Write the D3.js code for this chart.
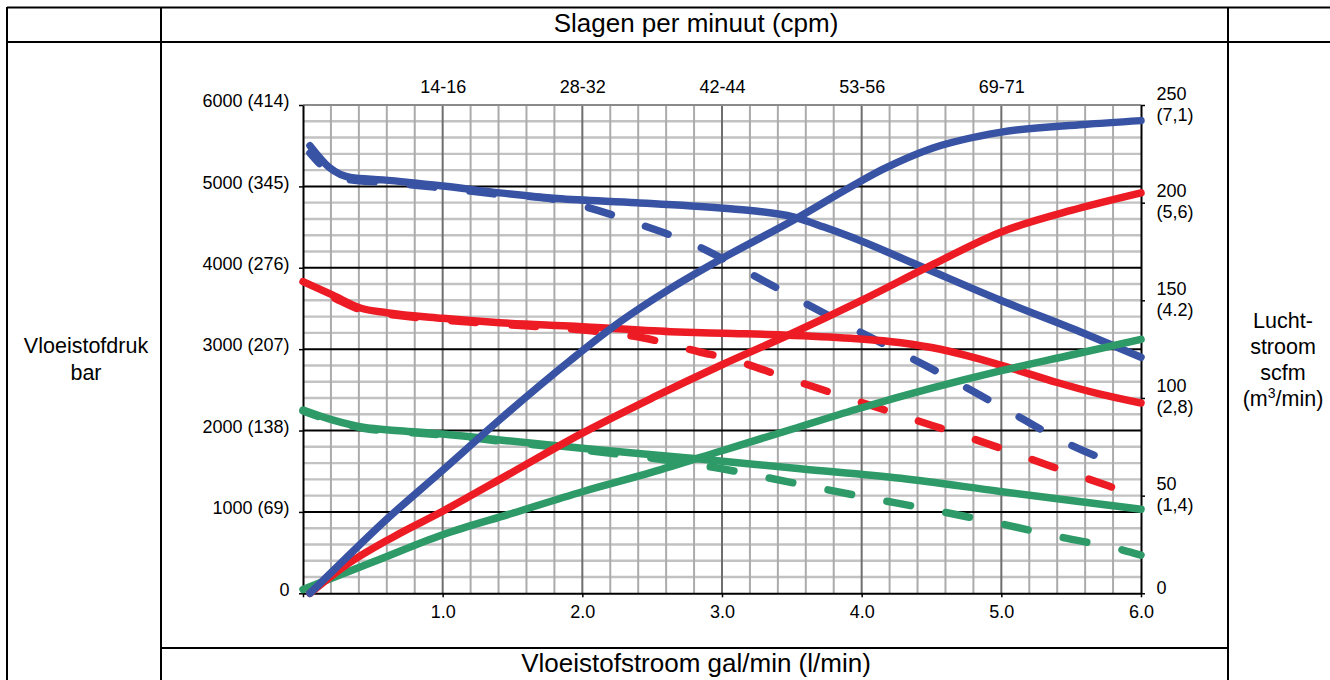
<!DOCTYPE html>
<html>
<head>
<meta charset="utf-8">
<script src="https://cdn.jsdelivr.net/npm/d3@7"></script>
<style>
  html, body { margin: 0; padding: 0; background: #fff; }
  svg { display: block; font-family: "Liberation Sans", Arial, Helvetica, sans-serif; }
</style>
</head>
<body>
<svg id="chart" width="1330" height="680"></svg>
<script>
// ---------------- DATA ----------------
const flowTicks = [0, 1, 2, 3, 4, 5, 6];
const flowLabels = ["", "1.0", "2.0", "3.0", "4.0", "5.0", "6.0"];

const cpmPositions = [1, 2, 3, 4, 5];
const cpmLabels = ["14-16", "28-32", "42-44", "53-56", "69-71"];

const pressureTicks = [0, 1000, 2000, 3000, 4000, 5000, 6000];
const pressureLabels = ["0", "1000 (69)", "2000 (138)", "3000 (207)", "4000 (276)", "5000 (345)", "6000 (414)"];

const airTicks = [0, 50, 100, 150, 200, 250];
const airLabels = [["0"], ["50", "(1,4)"], ["100", "(2,8)"], ["150", "(4.2)"], ["200", "(5,6)"], ["250", "(7,1)"]];

const titleTop = "Slagen per minuut (cpm)";
const titleBottom = "Vloeistofstroom gal/min (l/min)";
const titleLeft = ["Vloeistofdruk", "bar"];
const titleRight = ["Lucht-", "stroom", "scfm"];

// fluid pressure (psi) vs flow (gal/min)
const blueFluidSolid = [[0.05,5500],[0.19,5230],[0.34,5110],[0.57,5080],[1.0,5005],[1.41,4920],[1.82,4850],[2.39,4800],[2.99,4735],[3.22,4700],[3.51,4625],[3.73,4500],[3.92,4380],[4.4,4034],[4.99,3604],[5.59,3195],[6.0,2900]];
const blueFluidDashed = [[0.05,5410],[0.19,5170],[0.34,5080],[0.57,5050],[1.0,4980],[1.41,4900],[1.8,4840],[2.0,4760],[2.4,4540],[2.8,4285],[3.2,3930],[3.6,3560],[4.0,3200],[4.5,2760],[5.0,2290],[5.5,1820],[5.9,1540]];
const redFluidSolid = [[0,3829],[0.21,3666],[0.41,3506],[0.6,3448],[1.0,3379],[1.41,3325],[1.95,3280],[2.63,3215],[3.01,3195],[3.44,3174],[3.92,3133],[4.2,3095],[4.5,3020],[4.8,2900],[5.1,2750],[5.4,2590],[5.7,2450],[6.0,2338]];
const redFluidDashed = [[0,3800],[0.21,3640],[0.41,3485],[0.6,3430],[1.0,3360],[1.41,3305],[1.9,3250],[2.2,3200],[2.44,3137],[2.84,2965],[3.03,2891],[3.5,2625],[4.0,2345],[4.5,2065],[4.99,1786],[5.37,1552],[5.77,1318],[6.0,1180]];
const greenFluidSolid = [[0,2252],[0.21,2130],[0.43,2040],[0.69,1998],[1.0,1957],[1.41,1884],[1.98,1785],[2.84,1650],[3.56,1530],[4.28,1413],[4.99,1252],[5.5,1140],[6.0,1032]];
const greenFluidDashed = [[0,2240],[0.21,2118],[0.43,2028],[0.69,1986],[1.0,1945],[1.41,1870],[2.0,1760],[2.5,1660],[3.0,1530],[3.5,1360],[4.0,1190],[4.51,1024],[4.97,864],[5.42,692],[5.87,532],[6.0,470]];

// air flow (scfm) vs flow (gal/min)
const blueAir = [[0.05,0],[0.3,17.5],[0.57,36],[1.0,63],[1.41,89],[1.91,119],[2.27,139],[2.63,156],[2.99,171],[3.51,191],[3.92,208],[4.15,217],[4.51,228],[4.99,236],[5.59,240],[6.0,242]];
const redAir = [[0.05,0],[0.3,14],[0.65,29],[1.0,42],[1.5,62],[2.0,82],[2.5,100],[3.0,117],[3.5,133],[4.0,150],[4.5,168],[5.0,185],[5.5,196],[6.0,205]];
const greenAir = [[0,2],[0.5,16],[1.0,30],[1.5,41],[2.0,52],[2.5,62],[3.0,73],[3.5,84],[4.0,95],[4.5,105],[5.0,114],[5.5,122],[6.0,130]];

const colors = { blue: "#3953a4", red: "#ed1c24", green: "#2e9a68" };

// ---------------- LAYOUT ----------------
const svg = d3.select("#chart");
svg.append("rect").attr("width", 1330).attr("height", 680).attr("fill", "#fff");

const FONT = "'Liberation Sans', Arial, Helvetica, sans-serif";
const x = d3.scaleLinear().domain([0, 6]).range([303, 1141]);
const yL = d3.scaleLinear().domain([0, 6000]).range([593.3, 105]);
const yR = d3.scaleLinear().domain([0, 250]).range([593.3, 105]);

// table frame
const frame = svg.append("g").attr("stroke", "#000").attr("stroke-width", 2);
[[7, 7.5, 1330, 7.5], [7, 42, 1330, 42], [161, 648, 1228, 648],
 [7, 7, 7, 680], [161, 7, 161, 680], [1228, 7, 1228, 680]].forEach(l =>
  frame.append("line").attr("x1", l[0]).attr("y1", l[1]).attr("x2", l[2]).attr("y2", l[3]));

// grid
const grid = svg.append("g");
const minorX = d3.range(0, 6.0001, 0.2).filter(v => Math.abs(v - Math.round(v)) > 1e-6);
const minorY = d3.range(0, 6000.1, 200).filter(v => v % 1000 !== 0);
grid.selectAll(".hy").data(minorY).join("line")
  .attr("x1", x(0)).attr("x2", x(6)).attr("y1", d => yL(d)).attr("y2", d => yL(d))
  .attr("stroke", "#c2c2c2").attr("stroke-width", 2.4);
grid.selectAll(".vx").data(minorX).join("line")
  .attr("y1", yL(0)).attr("y2", yL(6000)).attr("x1", d => x(d)).attr("x2", d => x(d))
  .attr("stroke", "#ababab").attr("stroke-width", 2);
grid.selectAll(".vX").data(flowTicks.slice(1, -1)).join("line")
  .attr("y1", yL(0)).attr("y2", yL(6000)).attr("x1", d => x(d)).attr("x2", d => x(d))
  .attr("stroke", "#6e6e6e").attr("stroke-width", 2);
grid.selectAll(".hY").data(pressureTicks.slice(1, -1)).join("line")
  .attr("x1", x(0)).attr("x2", x(6)).attr("y1", d => yL(d)).attr("y2", d => yL(d))
  .attr("stroke", "#000").attr("stroke-width", 2);
grid.append("line").attr("x1", x(0)).attr("x2", x(6)).attr("y1", yL(6000)).attr("y2", yL(6000))
  .attr("stroke", "#8a8a8a").attr("stroke-width", 2);

// axes
function styleAxis(g) {
  g.select(".domain").attr("stroke", "#000").attr("stroke-width", 2);
  g.selectAll(".tick line").attr("stroke", "#000").attr("stroke-width", 1.5);
  g.selectAll("text").attr("font-family", FONT).attr("font-size", 18).attr("fill", "#000");
}
const axL = svg.append("g").attr("transform", `translate(${x(0)},0)`)
  .call(d3.axisLeft(yL).tickValues(pressureTicks).tickSize(4).tickSizeOuter(0).tickPadding(9.5)
    .tickFormat((d, i) => pressureLabels[i]));
styleAxis(axL);
axL.selectAll("text").attr("dy", "0.1em");

const axB = svg.append("g").attr("transform", `translate(0,${yL(0)})`)
  .call(d3.axisBottom(x).tickValues(flowTicks).tickSize(4).tickSizeOuter(0).tickPadding(6)
    .tickFormat((d, i) => flowLabels[i]));
styleAxis(axB);
axB.selectAll("text").attr("dy", null).attr("y", 24.5);

const axR = svg.append("g").attr("transform", `translate(${x(6)},0)`)
  .call(d3.axisRight(yR).tickValues(airTicks).tickSize(4).tickSizeOuter(0).tickFormat(""));
styleAxis(axR);
axR.selectAll(".tick").each(function(d, i) {
  const lines = airLabels[i];
  const t = d3.select(this).append("text").attr("font-family", FONT).attr("font-size", 18)
    .attr("fill", "#000").attr("text-anchor", "start");
  lines.forEach((s, j) => {
    t.append("tspan").attr("x", 15.5).attr("y", lines.length === 1 ? 0 : (j === 0 ? -6 : 15)).text(s);
  });
});

const axT = svg.append("g").attr("transform", `translate(0,92.5)`)
  .call(d3.axisTop(x).tickValues(cpmPositions).tickSize(0).tickPadding(0)
    .tickFormat((d, i) => cpmLabels[i]));
axT.select(".domain").remove();
axT.selectAll("text").attr("font-family", FONT).attr("font-size", 18).attr("fill", "#000").attr("dy", 0);

// curves
const lineL = d3.line().x(d => x(d[0])).y(d => yL(d[1])).curve(d3.curveMonotoneX);
const lineR = d3.line().x(d => x(d[0])).y(d => yR(d[1])).curve(d3.curveMonotoneX);
const curves = svg.append("g").attr("fill", "none").attr("stroke-width", 7.5).attr("stroke-linecap", "round").attr("stroke-linejoin", "round");
const series = [
  { d: greenFluidDashed, c: colors.green, dash: 8, f: lineL },
  { d: redFluidDashed, c: colors.red, dash: 25, f: lineL },
  { d: blueFluidDashed, c: colors.blue, dash: 10, f: lineL },
  { d: greenFluidSolid, c: colors.green, dash: null, f: lineL },
  { d: redFluidSolid, c: colors.red, dash: null, f: lineL },
  { d: blueFluidSolid, c: colors.blue, dash: null, f: lineL },
  { d: greenAir, c: colors.green, dash: null, f: lineR },
  { d: redAir, c: colors.red, dash: null, f: lineR },
  { d: blueAir, c: colors.blue, dash: null, f: lineR }
];
series.forEach(s => {
  const p = curves.append("path").attr("d", s.f(s.d)).attr("stroke", s.c);
  if (s.dash !== null) p.attr("stroke-dasharray", "24,36").attr("stroke-dashoffset", s.dash);
});

// titles
svg.append("text").attr("x", 696).attr("y", 32).attr("text-anchor", "middle")
  .attr("font-family", FONT).attr("font-size", 26).text(titleTop);
svg.append("text").attr("x", 696).attr("y", 672).attr("text-anchor", "middle")
  .attr("font-family", FONT).attr("font-size", 26).text(titleBottom);

const tl = svg.append("text").attr("text-anchor", "middle").attr("font-family", FONT).attr("font-size", 21.5);
titleLeft.forEach((s, i) => tl.append("tspan").attr("x", 86).attr("y", 353 + i * 27).text(s));

const tr = svg.append("text").attr("text-anchor", "middle").attr("font-family", FONT).attr("font-size", 21.5);
titleRight.forEach((s, i) => tr.append("tspan").attr("x", 1283).attr("y", 328 + i * 26).text(s));
const unit = tr.append("tspan").attr("x", 1283).attr("y", 406);
unit.append("tspan").text("(m");
unit.append("tspan").attr("font-size", 14).attr("dy", -8).text("3");
unit.append("tspan").attr("dy", 8).text("/min)");
</script>
</body>
</html>
